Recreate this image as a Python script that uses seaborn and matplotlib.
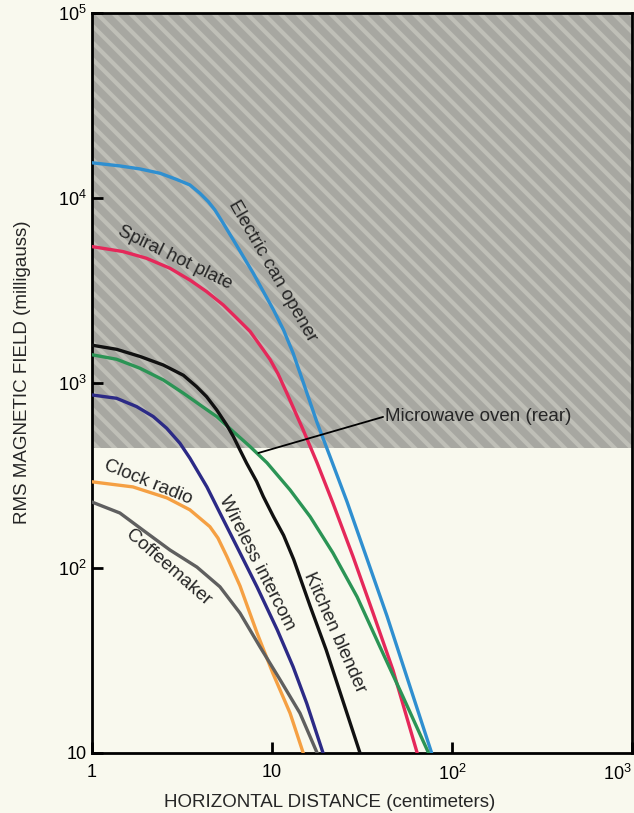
import matplotlib
matplotlib.use("Agg")
import matplotlib.pyplot as plt
from matplotlib.ticker import NullLocator
import seaborn as sns

# distance (cm) and rms magnetic field (milligauss)
can_opener_x = [1, 1.43, 1.85, 2.39, 2.95, 3.5, 3.98, 4.43, 4.82, 5.36, 6.1, 6.93, 7.87,
                8.95, 10.2, 11.6, 13.1, 14.9, 17.8, 21, 26.1, 33.7, 43.5, 77]
can_opener_y = [15500, 14900, 14350, 13600, 12600, 11760, 10600, 9550, 8610, 7300, 5930, 4820, 3920,
                3120, 2480, 1930, 1450, 1010, 610, 400, 228, 112, 55, 10]

hot_plate_x = [1, 1.49, 2.01, 2.71, 3.5, 4.33, 5.36, 6.37, 7.55, 8.95, 9.75, 10.8, 12.1, 14.9,
               17.8, 21.8, 28.2, 36.4, 47, 64]
hot_plate_y = [5460, 5130, 4720, 4170, 3600, 3120, 2640, 2240, 1900, 1510, 1340, 1120, 880, 557,
               370, 224, 115, 57.1, 28, 10]

blender_x = [1, 1.37, 1.85, 2.49, 3.22, 3.81, 4.33, 4.93, 5.6, 6.1, 6.64, 7.23, 8.22, 8.95,
             10.2, 11.6, 13.2, 16.3, 20, 30.8]
blender_y = [1600, 1520, 1390, 1250, 1100, 955, 843, 715, 593, 513, 434, 368, 293, 243,
             189, 150, 111, 62, 36, 10]

microwave_x = [1, 1.37, 1.85, 2.49, 3.22, 3.98, 4.93, 6.1, 7.55, 9.38, 12.6, 16.3, 21.8,
               29.7, 39.8, 53.4, 74]
microwave_y = [1420, 1343, 1200, 1038, 880, 761, 658, 545, 453, 370, 264, 189, 120.5,
               69.7, 37.4, 20.1, 10]

intercom_x = [1, 1.37, 1.77, 2.19, 2.6, 3.08, 3.5, 4.35, 5.14, 6.39, 8.26, 10.7, 13.1, 15.6, 19.2]
intercom_y = [861, 826, 745, 658, 569, 472, 392, 274, 198, 130, 78.9, 46.2, 29.2, 18.5, 10]

clock_radio_x = [1, 1.69, 2.61, 3.5, 4.52, 5.01, 5.62, 6.64, 8.26, 10.1, 12.6, 14.9]
clock_radio_y = [292, 274, 239, 206, 167, 145, 115, 80, 44.5, 27, 16.4, 10]

coffeemaker_x = [1, 1.43, 1.92, 2.71, 3.83, 5.14, 6.64, 8.58, 11.1, 14.3, 17.8]
coffeemaker_y = [227, 198, 160, 125, 101, 79, 57, 37.4, 24.8, 16.4, 10]

shade_level = 446  # top band is shaded grey

x_ticks = [1, 10, 100, 1000]
x_ticklabels = ["1", "10", r"$10^2$", r"$10^3$"]
y_ticks = [10, 100, 1000, 10000, 100000]
y_ticklabels = ["10", r"$10^2$", r"$10^3$", r"$10^4$", r"$10^5$"]

sns.set_theme(style="ticks")
plt.rcParams["font.family"] = ["Liberation Sans", "DejaVu Sans"]
plt.rcParams["mathtext.fontset"] = "custom"
plt.rcParams["mathtext.rm"] = "Liberation Sans"
plt.rcParams["mathtext.default"] = "regular"
plt.rcParams["hatch.linewidth"] = 3.0

paper = "#f9f9ee"
fig, ax = plt.subplots(figsize=(6.34, 8.13), dpi=100)
fig.patch.set_facecolor(paper)
ax.set_facecolor(paper)
fig.subplots_adjust(left=0.145, right=0.997, top=0.984, bottom=0.074)

ax.set_xscale("log")
ax.set_yscale("log")
ax.set_xlim(1, 1000)
ax.set_ylim(10, 1e5)

ax.axhspan(shade_level, 1e5, facecolor="#a7a7a1", edgecolor="#bfbfb7",
           hatch="\\\\", linewidth=0, zorder=0)

curves = [
    (can_opener_x, can_opener_y, "#2f8fd0"),
    (hot_plate_x, hot_plate_y, "#e5285a"),
    (microwave_x, microwave_y, "#2b9455"),
    (blender_x, blender_y, "#111111"),
    (intercom_x, intercom_y, "#2c2a86"),
    (clock_radio_x, clock_radio_y, "#f5a043"),
    (coffeemaker_x, coffeemaker_y, "#5f5f5f"),
]
for xs, ys, c in curves:
    sns.lineplot(x=xs, y=ys, color=c, linewidth=2.4, ax=ax, zorder=3)
for ln in ax.get_lines():
    ln.set_solid_joinstyle("round")

# curve labels
fs = 13.5
ax.text(10.0, 4030, "Electric can opener", rotation=-60, ha="center", va="center", fontsize=fs)
ax.text(2.89, 4750, "Spiral hot plate", rotation=-26, ha="center", va="center", fontsize=fs)
ax.text(2.05, 290, "Clock radio", rotation=-22, ha="center", va="center", fontsize=fs)
ax.text(2.65, 100, "Coffeemaker", rotation=-41, ha="center", va="center", fontsize=fs)
ax.text(8.2, 106, "Wireless intercom", rotation=-63, ha="center", va="center", fontsize=fs)
ax.text(22.3, 44.6, "Kitchen blender", rotation=-66, ha="center", va="center", fontsize=fs)
ax.plot([8.4, 41.4], [418, 655], color="black", linewidth=1.3, zorder=4)
ax.text(42.5, 655, "Microwave oven (rear)", ha="left", va="center", fontsize=fs)

ax.set_xticks(x_ticks)
ax.set_xticklabels(x_ticklabels)
ax.set_yticks(y_ticks)
ax.set_yticklabels(y_ticklabels)
ax.xaxis.set_minor_locator(NullLocator())
ax.yaxis.set_minor_locator(NullLocator())
ax.get_xticklabels()[-1].set_ha("right")
ax.tick_params(direction="in", length=8, width=2, labelsize=13, colors="black")
ax.tick_params(axis="x", pad=8)
for sp in ax.spines.values():
    sp.set_linewidth(2)
    sp.set_color("black")

ax.set_xlabel("HORIZONTAL DISTANCE (centimeters)", fontsize=13.5)
ax.set_ylabel("RMS MAGNETIC FIELD (milligauss)", fontsize=13.5)
ax.xaxis.set_label_coords(0.44, -0.055)
ax.yaxis.set_label_coords(-0.112, 0.515)

fig.savefig("out.png", dpi=100, facecolor=paper)
